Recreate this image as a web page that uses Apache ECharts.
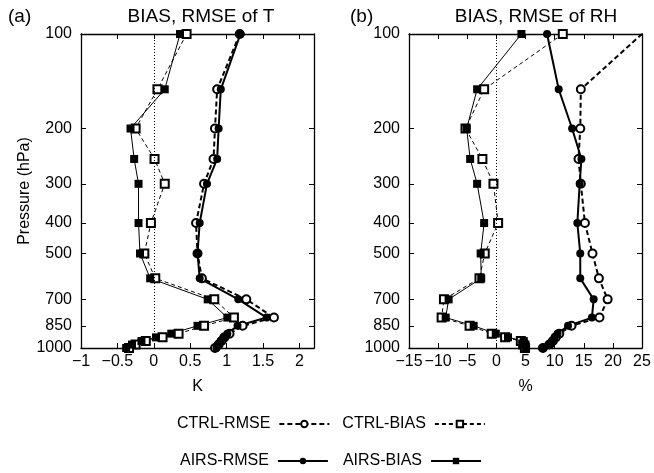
<!DOCTYPE html>
<html>
<head>
<meta charset="utf-8">
<script src="https://cdn.jsdelivr.net/npm/echarts@6/dist/echarts.min.js"></script>
<style>
    html, body { margin: 0; padding: 0; background: #fff; }
    #chart { width: 654px; height: 473px; }
</style>
</head>
<body>
<div id="chart"></div>
<script>
    // pressure levels (hPa), top to bottom
    var levels = [100, 150, 200, 250, 300, 400, 500, 600, 700, 800, 850, 900, 925, 950, 975, 1000];
    var pressureTicks = [100, 200, 300, 400, 500, 700, 850, 1000];

    // (a) temperature, K
    var tCtrlRmse = [1.18, 0.87, 0.84, 0.82, 0.69, 0.58, 0.60, 0.66, 1.27, 1.65, 1.22, 1.04, 0.97, 0.93, 0.89, 0.84];
    var tCtrlBias = [0.45, 0.05, -0.25, 0.01, 0.15, -0.04, -0.13, 0.02, 0.83, 1.10, 0.69, 0.34, 0.12, -0.11, -0.25, -0.34];
    var tAirsRmse = [1.19, 0.92, 0.89, 0.87, 0.73, 0.63, 0.60, 0.63, 1.16, 1.55, 1.15, 1.01, 0.96, 0.92, 0.89, 0.86];
    var tAirsBias = [0.36, 0.15, -0.32, -0.27, -0.21, -0.21, -0.19, -0.05, 0.74, 1.01, 0.60, 0.24, 0.03, -0.17, -0.30, -0.38];
    var tTicks = [-1, -0.5, 0, 0.5, 1, 1.5, 2];

    // (b) relative humidity, %
    var rhCtrlRmse = [25, 14.5, 14.4, 14.1, 14.5, 15.2, 16.5, 17.6, 19.1, 17.7, 12.9, 10.8, 10.2, 9.7, 9.1, 8.0];
    var rhCtrlBias = [11.4, -2.1, -5.3, -2.4, -0.5, 0.3, -2.0, -2.9, -9.0, -9.4, -4.6, -0.8, 1.5, 4.2, 4.6, 4.9];
    var rhAirsRmse = [8.7, 10.7, 13.0, 14.6, 14.3, 13.9, 14.4, 14.4, 16.7, 16.4, 12.3, 10.5, 10.0, 9.6, 9.2, 7.9];
    var rhAirsBias = [4.3, -3.3, -5.1, -4.5, -3.3, -2.1, -2.7, -2.6, -8.2, -8.7, -3.9, -0.1, 2.0, 4.7, 5.0, 5.1];
    var rhTicks = [-15, -10, -5, 0, 5, 10, 15, 20, 25];

    var FONT = '"Liberation Sans", Arial, sans-serif';
    var chart = echarts.init(document.getElementById('chart'));

    function pairs(vals) {
        return vals.map(function (v, i) { return [v, levels[i]]; });
    }
    function minus(v) {
        return String(v).replace('-', '\u2212');
    }

    function xAxisPair(gi, min, max, step, ticks, name) {
        var inner = ticks.slice(1);
        var base = {
            gridIndex: gi, type: 'value', min: min, max: max, interval: step,
            axisLine: {show: true, onZero: false, lineStyle: {color: '#000', width: 1.3}},
            axisTick: {show: true, inside: true, length: 5, customValues: inner, lineStyle: {color: '#000'}},
            splitLine: {show: false}
        };
        var bottom = echarts.util.merge({
            position: 'bottom', name: name, nameLocation: 'middle', nameGap: 31,
            nameTextStyle: {fontFamily: FONT, fontSize: 16, color: '#000'},
            axisLabel: {customValues: ticks, fontFamily: FONT, fontSize: 16, color: '#000', margin: 6,
                formatter: minus}
        }, base, true);
        var top = echarts.util.merge({
            position: 'top', axisLabel: {show: false}
        }, base, true);
        return [bottom, top];
    }

    function yAxisPair(gi) {
        var base = {
            gridIndex: gi, type: 'log', logBase: 10, min: 100, max: 1000, inverse: true,
            axisLine: {show: true, onZero: false, lineStyle: {color: '#000', width: 1.3}},
            axisTick: {show: true, inside: true, length: 5, customValues: pressureTicks, lineStyle: {color: '#000'}},
            splitLine: {show: false},
            minorTick: {show: false}
        };
        var left = echarts.util.merge({
            position: 'left',
            axisLabel: {customValues: pressureTicks, fontFamily: FONT, fontSize: 16, color: '#000', margin: 9,
                formatter: function (v) { return String(v); }}
        }, base, true);
        if (gi === 0) {
            left.name = 'Pressure (hPa)';
            left.nameLocation = 'middle';
            left.nameGap = 42;
            left.nameRotate = 90;
            left.nameTextStyle = {fontFamily: FONT, fontSize: 16, color: '#000'};
        }
        var right = echarts.util.merge({
            position: 'right', axisLabel: {show: false}
        }, base, true);
        return [left, right];
    }

    function panelSeries(gi, ctrlRmse, ctrlBias, airsRmse, airsBias) {
        var ci = gi * 2;
        var ctrlRmseData = pairs(ctrlRmse);
        if (gi === 1) {
            // top point runs off the corner of the box
            ctrlRmseData[0] = {value: ctrlRmseData[0], symbol: 'none'};
        }
        return [{
            name: 'CTRL-RMSE', type: 'line', xAxisIndex: ci, yAxisIndex: ci,
            data: ctrlRmseData, symbol: 'emptyCircle', symbolSize: 8,
            lineStyle: {color: '#000', width: 2, type: [5, 3]},
            itemStyle: {color: '#000', borderWidth: 1.5}
        }, {
            name: 'CTRL-BIAS', type: 'line', xAxisIndex: ci, yAxisIndex: ci,
            data: pairs(ctrlBias), symbol: 'emptyRect', symbolSize: 8,
            lineStyle: {color: '#000', width: 1, type: [4, 3]},
            itemStyle: {color: '#000', borderWidth: 1}
        }, {
            name: 'AIRS-RMSE', type: 'line', xAxisIndex: ci, yAxisIndex: ci,
            data: pairs(airsRmse), symbol: 'circle', symbolSize: 8,
            lineStyle: {color: '#000', width: 2},
            itemStyle: {color: '#000'}
        }, {
            name: 'AIRS-BIAS', type: 'line', xAxisIndex: ci, yAxisIndex: ci,
            data: pairs(airsBias), symbol: 'rect', symbolSize: 8,
            lineStyle: {color: '#000', width: 1},
            itemStyle: {color: '#000'},
            markLine: {
                silent: true, symbol: 'none', label: {show: false},
                lineStyle: {color: '#000', width: 1, type: [1, 2]},
                data: [{xAxis: 0}]
            }
        }];
    }

    var legendText = {fontFamily: FONT, fontSize: 16, color: '#000', padding: [0, 4, 0, 0]};
    var titleText = {fontFamily: FONT, fontSize: 19, fontWeight: 'normal', color: '#000'};

    chart.setOption({
        animation: false,
        title: [
            {text: 'BIAS, RMSE of T', left: 196, top: 2, textAlign: 'center', textStyle: titleText},
            {text: 'BIAS, RMSE of RH', left: 531, top: 2, textAlign: 'center', textStyle: titleText},
            {text: '(a)', left: 3, top: 2, textStyle: titleText},
            {text: '(b)', left: 345, top: 2, textStyle: titleText}
        ],
        grid: [
            {left: 81, width: 233, top: 34, height: 314},
            {left: 409, width: 233, top: 34, height: 314}
        ],
        xAxis: xAxisPair(0, -1, 2.2, 0.5, tTicks, 'K').concat(xAxisPair(1, -15, 25, 5, rhTicks, '%')),
        yAxis: yAxisPair(0).concat(yAxisPair(1)),
        legend: [
            {data: ['CTRL-RMSE', 'CTRL-BIAS'], left: 172, top: 411, align: 'right',
                itemWidth: 50, itemHeight: 8, itemGap: 12, textStyle: legendText, selectedMode: false},
            {data: ['AIRS-RMSE', 'AIRS-BIAS'], left: 175, top: 448, align: 'right',
                itemWidth: 50, itemHeight: 8, itemGap: 14, textStyle: legendText, selectedMode: false}
        ],
        series: panelSeries(0, tCtrlRmse, tCtrlBias, tAirsRmse, tAirsBias)
            .concat(panelSeries(1, rhCtrlRmse, rhCtrlBias, rhAirsRmse, rhAirsBias))
    });
</script>
</body>
</html>
